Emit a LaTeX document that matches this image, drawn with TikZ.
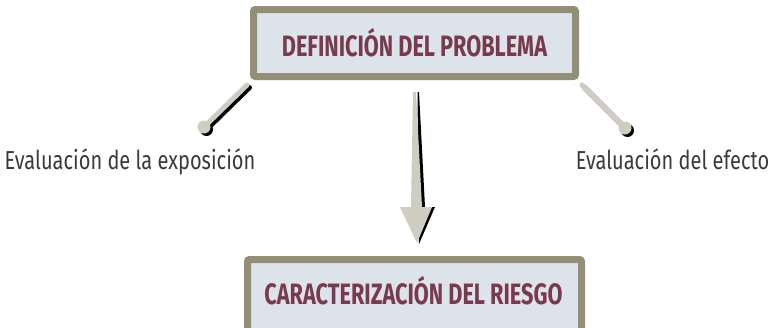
\documentclass[tikz,border=0pt]{standalone}
\usepackage{fontspec}
\setmainfont{Fira Sans}
\newfontfamily\boxfont[FakeStretch=0.735]{Fira Sans}
\newfontfamily\labfont[FakeStretch=0.77]{Fira Sans}
\usetikzlibrary{calc}
\definecolor{frameol}{HTML}{928F76}
\definecolor{boxfill}{HTML}{DCE3EA}
\definecolor{boxtext}{HTML}{7A3A4E}
\definecolor{stick}{HTML}{CFCDC1}
\definecolor{labtext}{HTML}{3A3A3A}
\tikzset{
  boxtxt/.style={text=boxtext, font=\boxfont\bfseries\fontsize{29.5}{30}\selectfont},
  mainbox/.style={draw=frameol, fill=boxfill, line width=7pt, rounded corners=2pt,
    inner sep=0pt, boxtxt},
  lab/.style={inner sep=0pt, text=labtext, font=\labfont\fontsize{26}{27}\selectfont, anchor=base},
  stickline/.style={line width=5pt, line cap=round, draw=stick},
  stickshadow/.style={line width=5pt, line cap=round, draw=black},
}
\begin{document}
\begin{tikzpicture}[x=1pt,y=-1pt]
\useasboundingbox (0,0) rectangle (771,327);
\clip (0,0) rectangle (771,327);
% boxes
\node[mainbox, minimum width=322pt, minimum height=67pt] (top) at (414.5,43) {DEFINICIÓN DEL PROBLEMA};
\node[mainbox, minimum width=334pt, minimum height=90pt] (bot) at (414.5,304.5) {};
\node[boxtxt, inner sep=0pt] (bottxt) at (413.5,291) {CARACTERIZACIÓN DEL RIESGO};
% labels
\node[lab] (lexp) at (130,169) {Evaluación de la exposición};
\node[lab] (leff) at (672.5,169) {Evaluación del efecto};
% stick coordinates
\coordinate (ls) at (247,85);
\coordinate (le) at (204,127);
\coordinate (rs) at (582,85);
\coordinate (re) at (625,128);
% shadows
\draw[stickshadow] ($(ls)+(2.5,2.5)$) -- ($(le)+(2.5,2.5)$);
\fill[black] ($(le)+(2.5,2.5)$) circle (6.5pt);
\draw[stickshadow] ($(rs)+(2.5,2.5)$) -- ($(re)+(2.5,2.5)$);
\fill[black] ($(re)+(2.5,2.5)$) circle (6.5pt);
% sticks
\draw[stickline] (ls) -- (le);
\fill[stick] (le) circle (6.5pt);
\draw[stickline] (rs) -- (re);
\fill[stick] (re) circle (6.5pt);
% arrow
\coordinate (at) at (414.5,92);
\coordinate (ah) at (417,243);
\fill[black] ($(at)+(3,0)$) -- ($(at)+(4.5,0)$) -- ($(ah)+(8,-36)$) -- ($(ah)+(18,-36)$) -- ($(ah)+(2,1)$) -- cycle;
\fill[stick] ($(at)+(-1.5,0)$) -- ($(at)+(1.5,0)$) -- ($(ah)+(5,-36)$) -- ($(ah)+(15,-36)$) -- (ah) -- ($(ah)+(-17,-36)$) -- ($(ah)+(-6,-36)$) -- cycle;
\end{tikzpicture}
\end{document}
